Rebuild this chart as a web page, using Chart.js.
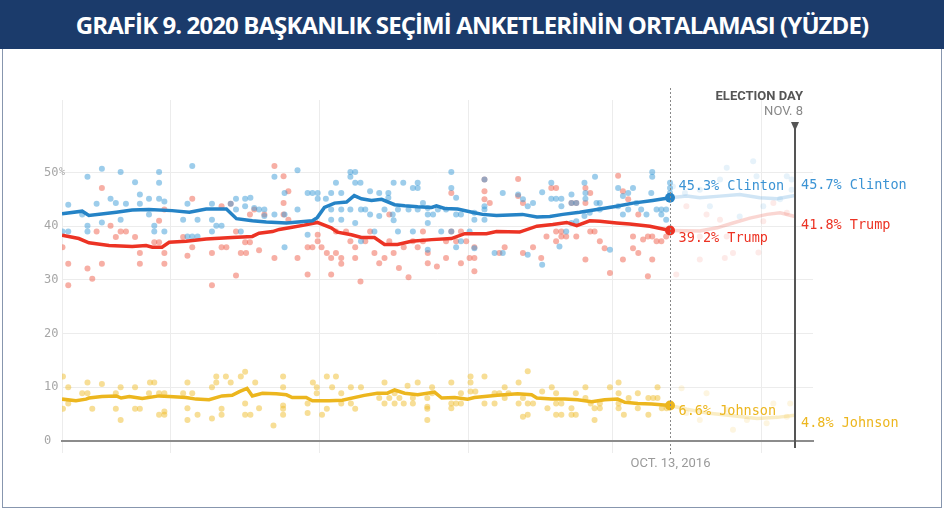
<!DOCTYPE html>
<html>
<head>
<meta charset="utf-8">
<script src="https://cdn.jsdelivr.net/npm/chart.js@4.4.0/dist/chart.umd.min.js"></script>
<style>
html, body { margin: 0; padding: 0; background: #fff; }
#wrap { position: relative; width: 944px; height: 509px; overflow: hidden; }
#frame { position: absolute; left: 2px; top: 0; width: 938px; height: 506px; border: 1px solid #8796ae; }
#banner { position: absolute; left: 0; top: 0; width: 944px; height: 49px; background: #1b3b6b; color: #fff;
  font: 700 24px "Open Sans"; text-align: center; line-height: 49px; letter-spacing: -0.9px; }
canvas { position: absolute; left: 0; top: 0; }
</style>
</head>
<body>
<div id="wrap">
  <div id="frame"></div>
  <canvas id="chart" width="944" height="509"></canvas>
  <div id="banner">GRAFİK 9. 2020 BAŞKANLIK SEÇİMİ ANKETLERİNİN ORTALAMASI (YÜZDE)</div>
</div>
<script>
// x = days since June 1, 2016; y = percent
const yTicks = [0, 10, 20, 30, 40, 50];
const gridDays = [7.5, 30, 61, 92, 122, 153];   // data start + month starts
const oct13 = 134, nov8 = 160;

// polling averages up to Oct. 13
const clintonAvg = [[7.5,42.3],[11.7,42.8],[13.1,42.0],[18.8,42.6],[22.1,43.0],[25.6,43.1],[30.4,42.9],[34.0,42.6],
  [37.5,43.2],[41.7,43.2],[43.8,41.4],[47.1,41.0],[50.0,40.8],[54.2,40.6],[59.6,41.0],[60.6,41.6],[62.1,43.5],
  [64.2,44.3],[66.7,44.5],[68.3,45.7],[69.8,45.1],[71.9,44.8],[74.0,45.0],[76.7,44.0],[78.8,43.8],[81.5,43.6],
  [84.4,43.5],[85.4,43.8],[87.1,43.3],[89.8,43.2],[93.3,42.5],[95.0,42.2],[97.9,42.0],[103.3,42.2],[106.3,41.7],
  [109.0,41.8],[111.7,42.2],[115.2,42.6],[118.8,43.1],[122.9,43.7],[126.3,44.3],[130.4,44.8],[134,45.3]];
const trumpAvg = [[7.5,38.3],[11.0,37.7],[13.1,36.9],[17.3,36.4],[22.1,36.2],[25.0,36.4],[26.3,36.1],[28.3,36.1],
  [29.8,37.0],[33.3,37.2],[37.5,37.6],[42.9,37.9],[47.1,38.1],[48.5,38.7],[51.3,39.0],[52.7,39.4],[54.8,39.7],
  [57.9,40.2],[60.6,40.7],[63.5,39.7],[64.8,38.9],[67.7,38.4],[69.8,37.9],[72.5,37.9],[74.6,36.6],[77.3,36.6],
  [80.2,37.2],[84.4,37.5],[88.5,37.7],[91.3,38.6],[95.8,38.6],[97.9,39.0],[102.7,38.9],[106.3,40.0],[109.6,40.3],
  [112.5,40.7],[114.6,40.1],[117.3,41.0],[119.4,40.9],[122.9,40.6],[125.6,40.4],[129.8,40.0],[134,39.2]];
const johnsonAvg = [[7.5,7.8],[10.4,7.5],[12.5,7.8],[13.1,8.0],[15.8,8.3],[18.8,8.4],[19.8,8.0],[21.5,8.3],[24.2,7.9],
  [27.7,8.4],[29.8,8.3],[33.3,8.1],[35.4,7.8],[38.1,7.7],[40.8,8.4],[42.9,8.5],[44.4,9.2],[46.0,9.8],[47.1,8.4],
  [49.2,8.9],[52.1,8.8],[54.2,8.6],[55.4,8.1],[58.3,8.1],[59.6,7.5],[63.1,7.5],[65.8,7.6],[70.4,8.5],[73.1,8.9],
  [75.2,8.9],[76.7,9.5],[78.8,8.9],[81.5,8.6],[85.0,9.1],[86.5,8.0],[89.2,8.1],[91.9,7.8],[93.3,8.1],[98.1,8.5],
  [102.3,8.8],[105.2,8.6],[106.3,8.0],[109.4,7.8],[112.1,7.8],[114.8,7.7],[117.7,7.3],[120.4,7.7],[123.1,7.8],
  [124.6,7.2],[127.3,7.0],[130.2,6.9],[134,6.6]];

// faded projection to Nov. 8
const clintonProj = [[134,45.3],[137.5,45.6],[140.2,45.3],[144.4,45.6],[148.5,45.9],[152.7,45.3],[156.3,45.1],[160,45.7]];
const trumpProj = [[134,39.2],[140.2,39.1],[143.8,39.7],[147.1,40.6],[150.6,41.5],[154.2,42.2],[156.9,42.5],[160,41.8]];
const johnsonProj = [[134,6.6],[137.5,5.9],[141.7,5.2],[147.1,4.7],[152.1,4.2],[156.3,4.4],[160,4.8]];

// individual polls
const clintonPolls = [[8.8,44.0],[12.8,49.2],[15.8,50.7],[19.7,50.1],[22.7,48.2],[23.7,45.9],[27.7,50.1],[27.7,48.1],
  [17.6,45.1],[18.7,44.3],[20.8,44.2],[23.7,44.2],[25.6,45.1],[27.7,45.1],[28.8,44.6],[14.7,44.2],[11.7,42.2],
  [12.8,40.1],[12.8,39.0],[7.6,39.0],[8.8,39.0],[15.8,40.7],[19.7,41.2],[25.6,42.2],[26.7,40.1],[26.7,39.0],
  [28.8,39.0],[34.6,51.2],[33.6,44.2],[32.7,41.2],[35.7,41.2],[38.7,44.2],[38.7,41.2],[38.7,39.0],[39.6,40.1],
  [40.7,40.1],[42.6,44.2],[43.7,45.1],[45.6,45.1],[46.7,45.3],[45.6,43.7],[43.7,43.1],[44.7,39.0],[47.5,43.4],
  [48.5,43.1],[49.6,43.1],[33.6,38.1],[34.6,38.1],[35.7,38.1],
  [51.7,49.2],[56.5,50.4],[53.8,46.2],[58.6,46.2],[59.6,46.2],[60.7,46.2],[60.7,45.1],[62.4,45.1],[63.5,46.2],
  [65.6,46.2],[64.5,48.1],[67.5,50.1],[68.5,50.1],[67.5,49.2],[68.5,48.1],[69.6,48.1],[71.6,46.5],[73.5,46.2],
  [75.4,46.2],[75.4,45.3],[76.5,48.1],[78.5,48.1],[80.5,47.1],[81.5,48.1],[81.5,47.1],[82.6,44.3],[83.6,43.4],
  [88.5,50.1],[88.5,47.1],[89.5,45.3],[49.6,41.9],[51.7,42.2],[56.5,43.1],[53.8,42.2],[65.6,43.1],[63.5,43.1],
  [67.5,43.1],[69.7,43.1],[70.6,43.1],[71.6,42.2],[73.5,41.9],[74.6,43.1],[76.3,42.2],[77.4,43.1],[79.6,43.1],
  [81.5,43.1],[83.6,42.2],[84.7,42.2],[85.7,43.1],[87.4,43.1],[89.5,42.2],[90.5,42.2],[58.6,38.4],[53.8,36.1],
  [63.5,41.2],[65.6,41.2],[68.5,40.6],[69.7,37.2],[72.5,39.0],[76.5,41.1],[77.4,39.0],[80.5,39.0],[83.6,40.6],
  [83.6,35.6],[86.4,39.0],[88.5,39.0],[89.5,36.1],[92.3,39.0],[90.5,37.2],
  [95.4,48.7],[95.4,43.7],[95.4,41.2],[95.4,43.1],[99.2,46.2],[102.4,45.9],[103.4,45.0],[104.4,43.7],[105.5,44.3],
  [107.4,46.3],[109.3,48.1],[109.3,45.1],[110.3,45.1],[111.4,45.1],[111.4,43.7],[113.5,45.9],[113.5,44.3],
  [114.5,44.3],[116.2,48.1],[116.4,46.2],[116.4,45.1],[118.4,49.2],[118.7,44.3],[119.4,44.3],[123.2,47.1],
  [124.2,45.6],[125.3,46.2],[126.3,47.1],[127.0,44.3],[130.1,46.2],[130.3,50.1],[130.3,49.2],[132.2,43.1],
  [133.2,43.1],[134.0,48.1],[134.0,47.1],[134.0,46.2],[93.3,42.5],[93.3,41.2],[97.5,35.0],[99.2,35.0],[104.4,34.7],
  [107.4,32.8],[111.0,36.2],[112.4,39.0],[113.5,40.6],[114.5,40.9],[116.2,41.9],[117.3,42.5],[119.4,43.1],
  [121.5,35.6],[123.2,43.7],[124.2,42.2],[125.3,43.1],[128.0,43.1],[129.1,42.2],[131.2,43.1],[132.2,42.2],
  [133.2,41.2],[93.3,35.9]];
const trumpPolls = [[15.8,47.1],[7.6,36.1],[8.8,33.0],[12.8,32.1],[13.8,30.2],[8.8,29.0],[14.7,39.0],[15.8,33.0],
  [17.6,40.1],[18.7,38.0],[19.7,39.0],[20.8,39.0],[22.7,38.0],[23.7,35.0],[23.7,33.0],[26.7,37.0],[27.7,37.0],
  [28.8,35.0],[28.8,33.0],[27.7,41.0],[28.8,43.1],[34.6,45.1],[33.6,34.5],[34.6,36.1],[32.7,38.0],[38.7,35.0],
  [38.7,29.0],[40.7,43.7],[43.7,30.8],[40.7,36.1],[41.7,36.1],[44.7,35.0],[45.8,35.0],[45.6,37.0],[46.6,37.0],
  [48.5,35.5],[47.5,43.1],[49.6,42.2],[43.7,39.0],[42.6,44.2],[46.6,42.2],
  [51.7,51.2],[53.6,49.3],[54.6,46.5],[53.6,44.3],[53.6,42.2],[54.6,41.2],[51.7,34.1],[56.5,34.1],[58.6,36.1],
  [59.6,36.1],[58.6,31.0],[61.5,36.1],[62.6,35.0],[63.5,34.1],[64.5,35.0],[65.6,34.1],[65.6,33.0],[63.5,31.0],
  [60.7,38.4],[60.7,37.2],[64.5,39.0],[66.6,39.0],[67.5,37.2],[68.5,36.1],[68.5,34.1],[69.6,29.7],[70.6,37.2],
  [71.6,39.0],[72.5,35.0],[73.5,33.1],[74.6,34.1],[75.6,42.2],[75.6,37.2],[76.5,35.0],[77.6,32.2],[78.6,36.1],
  [79.6,30.5],[80.5,37.2],[81.5,36.1],[82.6,39.0],[82.6,37.2],[83.6,35.0],[83.6,33.1],[85.5,32.5],[87.4,34.1],
  [88.5,46.2],[89.5,37.2],[90.5,33.1],[92.3,34.1],[90.5,39.0],[88.5,39.0],[91.6,37.2],[87.4,37.2],
  [95.4,46.5],[95.4,48.7],[95.4,45.0],[96.5,44.3],[102.4,48.8],[102.4,45.6],[103.4,44.3],[93.3,34.1],[93.3,31.6],
  [93.3,36.1],[98.5,35.0],[99.6,36.1],[103.4,35.0],[105.5,36.1],[107.2,34.1],[108.3,38.1],[109.3,47.1],[110.3,47.1],
  [110.3,39.0],[110.3,37.2],[111.4,39.0],[111.4,38.1],[112.4,38.1],[113.5,44.3],[114.5,44.3],[114.5,38.1],
  [116.4,47.1],[116.4,44.3],[117.4,46.2],[117.4,39.0],[118.3,39.0],[119.4,37.2],[120.4,35.9],[121.5,31.3],
  [123.2,49.4],[124.2,46.5],[124.2,33.8],[125.3,45.0],[126.3,38.1],[126.3,35.9],[127.4,42.2],[128.4,37.5],
  [129.4,38.1],[130.3,38.1],[130.3,33.8],[131.2,37.2],[132.2,37.2],[133.2,38.1],[129.4,30.7],[127.4,35.0],
  [116.4,33.8]];
const johnsonPolls = [[7.7,12.0],[7.7,6.0],[8.8,10.0],[8.8,7.0],[12.8,10.9],[11.7,8.9],[12.8,8.9],[13.8,6.0],
  [15.8,10.6],[19.7,10.0],[18.7,8.9],[18.7,6.0],[19.7,3.9],[22.7,10.0],[22.7,6.0],[23.7,6.0],[25.8,10.9],[26.7,10.9],
  [25.6,8.9],[27.7,8.9],[28.8,8.9],[27.7,4.9],[28.8,5.5],[28.8,4.9],[32.7,8.9],[33.6,10.9],[34.6,8.9],[33.6,6.1],
  [33.6,3.9],[35.7,4.9],[38.7,10.0],[38.7,4.2],[39.6,12.0],[39.6,10.9],[41.6,12.0],[42.6,10.9],[40.7,6.0],[40.7,4.9],
  [44.7,12.0],[45.6,12.9],[47.7,10.9],[45.6,7.0],[45.6,4.9],[46.7,4.9],[48.5,6.1],[51.5,2.9],[53.5,12.0],[53.5,10.0],
  [53.5,6.6],[53.5,6.0],[53.5,4.9],[58.6,7.0],[58.6,5.2],[59.7,10.9],[60.5,10.0],[60.5,8.9],[61.6,4.9],[62.6,12.0],
  [62.6,6.0],[63.7,10.0],[64.5,12.0],[65.6,8.9],[65.6,7.0],[67.6,10.0],[67.6,7.0],[68.5,6.0],[69.7,10.0],
  [74.6,10.9],[73.5,8.0],[74.6,7.0],[75.6,8.0],[76.7,8.9],[76.7,7.0],[77.7,8.0],[78.6,7.0],[79.4,10.3],[80.5,8.0],
  [80.5,7.0],[81.5,10.9],[83.5,8.0],[83.5,6.4],[83.5,6.0],[83.5,3.9],[84.5,10.0],[84.5,8.9],[88.5,10.9],[88.5,7.0],
  [88.5,6.1],[89.5,7.0],[90.5,8.9],[90.5,7.0],[92.5,12.0],[92.5,10.9],[92.5,9.2],[93.5,9.2],[95.4,12.0],[95.4,7.0],
  [97.5,8.9],[97.5,7.0],[98.5,8.9],[99.6,10.0],[99.6,8.0],[100.4,8.9],[102.5,10.9],[102.5,7.0],[103.4,8.0],
  [103.4,4.5],[104.4,13.0],[104.4,7.0],[104.4,4.9],[105.5,7.0],[107.4,9.2],[108.5,6.1],[109.4,10.0],[110.3,8.9],
  [110.3,7.0],[110.3,4.9],[111.4,7.0],[111.4,4.9],[113.5,6.1],[113.5,4.9],[114.4,8.9],[114.4,4.9],[116.4,10.0],
  [116.4,8.0],[117.5,7.0],[118.3,6.1],[118.3,3.9],[119.4,7.0],[119.4,6.1],[121.5,10.0],[123.3,10.9],[123.3,8.9],
  [123.3,7.0],[123.3,6.1],[124.4,4.9],[125.4,8.0],[127.3,8.9],[127.3,6.1],[129.5,8.0],[129.5,4.9],[130.5,8.0],
  [131.4,10.0],[131.4,8.0],[132.3,6.1],[133.3,6.1]];

// polls after Oct. 13 (shown faded)
const clintonLate = [[134.6,47.4],[137.1,46.2],[140.2,46.8],[144.4,48.7],[145.8,50.9],[151.3,52.1],[152.0,49.3],
  [158.3,49.3],[159.3,48.7],[159.3,46.8],[153.4,43.7],[148.5,41.8],[142.3,43.7],[156.9,45.0]];
const trumpLate = [[137.4,43.7],[141.6,42.2],[144.4,41.2],[140.2,38.1],[145.8,38.1],[155.5,44.3],[158.3,42.5],
  [153.4,40.9],[140.2,33.8],[145.4,34.1],[147.1,35.0],[152.4,35.1],[135.3,31.0]];
const johnsonLate = [[136.4,9.8],[141.6,8.9],[137.4,5.2],[140.2,3.9],[145.8,5.8],[150.0,3.9],[154.1,3.3],[155.5,7.0],
  [159.0,7.0],[158.3,4.5],[147.1,2.1]];

const BLUE = '#2583c6', RED = '#ec3324', YELLOW = '#ecb61e';
const pts = arr => arr.map(([d, v]) => ({ x: d, y: v }));
const last = arr => arr[arr.length - 1];

function dots(data, color, order) {
    return { type: 'scatter', data: pts(data), pointRadius: 3, pointBorderWidth: 0,
             pointBackgroundColor: color, order: order };
}
function line(data, color, width, order) {
    return { type: 'line', data: pts(data), borderColor: color, borderWidth: width, pointRadius: 0,
             tension: 0, fill: false, order: order };
}

const annotations = {
    id: 'annotations',
    afterDatasetsDraw(chart) {
        const { ctx, scales: { x, y } } = chart;
        ctx.save();

        // small "%" after the top y label
        ctx.font = '10px "DejaVu Sans Mono"';
        ctx.fillStyle = '#a6a6a6';
        ctx.textAlign = 'left';
        ctx.textBaseline = 'middle';
        ctx.fillText('%', y.left + 15, y.getPixelForValue(50));

        // Oct. 13 dotted line
        const xo = Math.round(x.getPixelForValue(oct13)) + 0.5;
        ctx.strokeStyle = '#888';
        ctx.lineWidth = 1;
        ctx.setLineDash([2, 2]);
        ctx.beginPath(); ctx.moveTo(xo, 88); ctx.lineTo(xo, 456); ctx.stroke();
        ctx.setLineDash([]);

        // election day line
        const xe = Math.round(x.getPixelForValue(nov8));
        ctx.strokeStyle = '#555';
        ctx.lineWidth = 2;
        ctx.beginPath(); ctx.moveTo(xe, 128); ctx.lineTo(xe, 448); ctx.stroke();
        ctx.fillStyle = '#555';
        ctx.beginPath(); ctx.moveTo(xe - 4, 122); ctx.lineTo(xe + 4, 122); ctx.lineTo(xe, 131); ctx.closePath(); ctx.fill();

        ctx.textAlign = 'right';
        ctx.textBaseline = 'alphabetic';
        ctx.font = 'bold 13px Roboto';
        ctx.fillStyle = '#555';
        ctx.fillText('ELECTION DAY', xe + 8, 100);
        ctx.font = '13px Roboto';
        ctx.fillStyle = '#888';
        ctx.fillText('NOV. 8', xe + 8, 115);

        ctx.textAlign = 'center';
        ctx.font = '13px Roboto';
        ctx.fillStyle = '#9a9a9a';
        ctx.fillText('OCT. 13, 2016', xo, 467);

        // value labels
        ctx.textAlign = 'left';
        ctx.textBaseline = 'middle';
        ctx.font = '13.5px "DejaVu Sans Mono"';
        const labels = [
            [clintonAvg, 'Clinton', '#3b93d4', -11, xo + 8],
            [trumpAvg, 'Trump', RED, 8, xo + 8],
            [johnsonAvg, 'Johnson', YELLOW, 6, xo + 8],
            [clintonProj, 'Clinton', '#3b93d4', -10, xe + 6],
            [trumpProj, 'Trump', RED, 9, xe + 6],
            [johnsonProj, 'Johnson', YELLOW, 8, xe + 6]
        ];
        labels.forEach(([arr, name, color, dy, lx]) => {
            const v = last(arr)[1];
            ctx.fillStyle = color;
            ctx.fillText(v.toFixed(1) + '% ' + name, lx, y.getPixelForValue(v) + dy);
        });
        ctx.restore();
    }
};

new Chart(document.getElementById('chart'), {
    type: 'scatter',
    data: {
        datasets: [
            { type: 'scatter', data: [last(clintonAvg), last(trumpAvg), last(johnsonAvg)].map(([d, v]) => ({ x: d, y: v })),
              pointRadius: 5, pointBorderWidth: 0, pointBackgroundColor: [BLUE, RED, YELLOW], order: 0 },
            line(clintonAvg, BLUE, 3.5, 1),
            line(trumpAvg, RED, 3.5, 1),
            line(johnsonAvg, YELLOW, 3.5, 1),
            line(clintonProj, 'rgba(120,180,225,0.35)', 3.5, 2),
            line(trumpProj, 'rgba(240,120,105,0.3)', 3.5, 2),
            line(johnsonProj, 'rgba(240,195,60,0.3)', 3.5, 2),
            dots(clintonPolls, 'rgba(60,155,215,0.5)', 3),
            dots(trumpPolls, 'rgba(240,95,75,0.5)', 3),
            dots(johnsonPolls, 'rgba(240,190,45,0.5)', 3),
            dots(clintonLate, 'rgba(60,155,215,0.13)', 3),
            dots(trumpLate, 'rgba(240,95,75,0.13)', 3),
            dots(johnsonLate, 'rgba(240,190,45,0.15)', 3)
        ]
    },
    options: {
        responsive: false,
        animation: false,
        devicePixelRatio: 1,
        layout: { padding: { left: 44, right: 131, top: 100, bottom: 0 } },
        plugins: { legend: { display: false }, tooltip: { enabled: false } },
        scales: {
            x: {
                type: 'linear', min: 7.5, max: 163.75,
                afterBuildTicks: s => { s.ticks = gridDays.map(v => ({ value: v })); },
                afterFit: s => { s.height = 68; },
                grid: { color: '#ececec', tickLength: 12 },
                border: { color: '#8c8c8c', width: 2 },
                ticks: { display: false }
            },
            y: {
                min: 0, max: 63.5,
                afterBuildTicks: s => { s.ticks = yTicks.map(v => ({ value: v })); },
                afterFit: s => { s.width = 18; },
                grid: { color: '#ececec', drawTicks: false },
                border: { display: false },
                ticks: {
                    crossAlign: 'far', padding: 0, color: '#a6a6a6',
                    font: { family: 'DejaVu Sans Mono', size: 12 },
                    callback: v => String(v)
                }
            }
        }
    },
    plugins: [annotations]
});
</script>
</body>
</html>
